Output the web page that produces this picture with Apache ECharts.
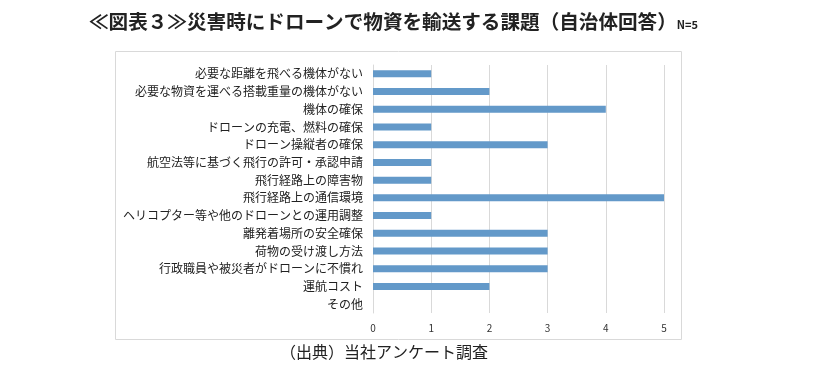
<!DOCTYPE html>
<html><head><meta charset="utf-8">
<script src="https://cdn.jsdelivr.net/npm/echarts@6/dist/echarts.min.js"></script>
<style>html,body{margin:0;padding:0;background:#fff}#c{width:830px;height:377px}</style>
</head><body><div id="c"></div>
<script>
const categories = [
  "必要な距離を飛べる機体がない",
  "必要な物資を運べる搭載重量の機体がない",
  "機体の確保",
  "ドローンの充電、燃料の確保",
  "ドローン操縦者の確保",
  "航空法等に基づく飛行の許可・承認申請",
  "飛行経路上の障害物",
  "飛行経路上の通信環境",
  "ヘリコプター等や他のドローンとの運用調整",
  "離発着場所の安全確保",
  "荷物の受け渡し方法",
  "行政職員や被災者がドローンに不慣れ",
  "運航コスト",
  "その他"
];
const values = [1, 2, 4, 1, 3, 1, 1, 5, 1, 3, 3, 3, 2, 0];
const titleText = "≪図表３≫災害時にドローンで物資を輸送する課題（自治体回答）";
const noteText = "N=5";
const sourceText = "（出典）当社アンケート調査";

const chart = echarts.init(document.getElementById('c'));
const font = '"Noto Sans CJK JP", "Noto Sans", sans-serif';
chart.setOption({
  animation: false,
  textStyle: { fontFamily: font },
  title: {
    text: '{t|' + titleText + '}{n|' + noteText + '}',
    left: 84, top: 7,
    textStyle: {
      rich: {
        t: { fontSize: 19.6, fontWeight: 'bold', color: '#222', fontFamily: font },
        n: { fontSize: 11, fontWeight: 'bold', color: '#222', fontFamily: font, padding: [6, 0, 0, 0] }
      }
    }
  },
  graphic: [
    { type: 'rect', shape: { x: 115.5, y: 51.5, width: 566, height: 288 },
      style: { fill: 'none', stroke: '#d9d9d9', lineWidth: 1 }, z: -1 },
    { type: 'text', left: 280, top: 344,
      style: { text: sourceText, fontSize: 16, fill: '#222', fontFamily: font } }
  ],
  grid: { left: 373, right: 166, top: 65, bottom: 64, containLabel: false },
  xAxis: {
    type: 'value', min: 0, max: 5, interval: 1,
    axisLine: { show: false }, axisTick: { show: false },
    splitLine: { lineStyle: { color: '#d9d9d9' } },
    axisLabel: { fontSize: 10, color: '#333', margin: 10 }
  },
  yAxis: {
    type: 'category', data: categories, inverse: true,
    axisLine: { lineStyle: { color: '#d9d9d9' } }, axisTick: { show: false },
    axisLabel: { fontSize: 12, color: '#222', margin: 10, interval: 0 }
  },
  series: [{
    type: 'bar', data: values, barWidth: 7,
    itemStyle: { color: '#6399C9' }
  }]
});
</script></body></html>
